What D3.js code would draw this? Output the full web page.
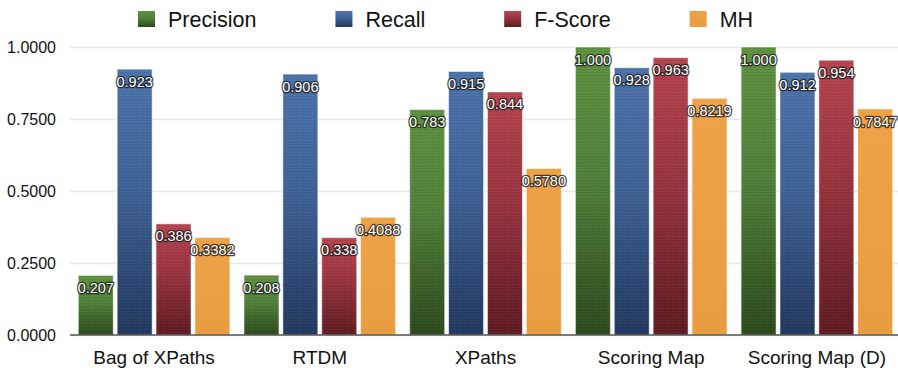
<!DOCTYPE html>
<html>
<head>
<meta charset="utf-8">
<script src="https://cdn.jsdelivr.net/npm/d3@7"></script>
<style>
  html, body { margin: 0; padding: 0; background: #fff; }
  svg { display: block; font-family: "Liberation Sans", Arial, Helvetica, sans-serif; }
</style>
</head>
<body>
<svg id="chart" width="898" height="368"></svg>
<script>
// Extraction methods compared on four measures
const categories = ["Bag of XPaths", "RTDM", "XPaths", "Scoring Map", "Scoring Map (D)"];
const seriesNames = ["Precision", "Recall", "F-Score", "MH"];
const precision = [0.207, 0.208, 0.783, 1.000, 1.000];
const recall    = [0.923, 0.906, 0.915, 0.928, 0.912];
const fScore    = [0.386, 0.338, 0.844, 0.963, 0.954];
const mh        = [0.3382, 0.4088, 0.5780, 0.8219, 0.7847];
const yTicks    = [0, 0.25, 0.5, 0.75, 1.0];

const seriesValues = [precision, recall, fScore, mh];
const labelDigits = [3, 3, 3, 4];
// top / middle / bottom shades of each series
const shades = [
  { top: "#5e9140", mid: "#50803a", bottom: "#2c4a1c" },
  { top: "#4c73ab", mid: "#3f6296", bottom: "#22385e" },
  { top: "#b5444f", mid: "#98343f", bottom: "#5f1a21" },
  { top: "#eda248", mid: "#eca045", bottom: "#e99d42" }
];

const svg = d3.select("#chart");
const plotLeft = 70, plotRight = 898, plotTop = 47, plotBottom = 335;

const x0 = d3.scaleBand().domain(categories).range([plotLeft, 901]).paddingInner(0.085).paddingOuter(0.05);
const x1 = d3.scaleBand().domain(seriesNames).range([0, x0.bandwidth()]).paddingInner(0.1);
const y = d3.scaleLinear().domain([0, 1]).range([plotBottom, plotTop]);

// gradients
const defs = svg.append("defs");
seriesNames.forEach((name, i) => {
  const g = defs.append("linearGradient")
    .attr("id", "grad" + i).attr("x1", 0).attr("y1", 0).attr("x2", 0).attr("y2", 1);
  g.append("stop").attr("offset", "0%").attr("stop-color", shades[i].top);
  g.append("stop").attr("offset", "45%").attr("stop-color", shades[i].mid);
  g.append("stop").attr("offset", "100%").attr("stop-color", shades[i].bottom);
});
// faint horizontal grain over the bars
const grain = defs.append("pattern").attr("id", "grain")
  .attr("patternUnits", "userSpaceOnUse").attr("width", 6).attr("height", 3);
grain.append("rect").attr("width", 6).attr("height", 1).attr("fill", "rgba(0,0,0,0.04)");
grain.append("rect").attr("y", 2).attr("width", 4).attr("height", 1).attr("fill", "rgba(255,255,255,0.04)");

// y axis: gridlines and labels
const yAxis = d3.axisLeft(y).tickValues(yTicks).tickFormat(d3.format(".4f"))
  .tickSize(-(plotRight - plotLeft)).tickPadding(14);
const ya = svg.append("g").attr("transform", `translate(${plotLeft},0)`).call(yAxis);
ya.select(".domain").remove();
ya.selectAll(".tick line").attr("stroke", "#e6e6e6").attr("stroke-width", 1.5);
ya.selectAll(".tick text").attr("font-size", 16).attr("fill", "#111")
  .attr("font-family", "'Liberation Sans', Arial, Helvetica, sans-serif");

// bars
const groups = svg.append("g").selectAll("g").data(categories).join("g")
  .attr("transform", d => `translate(${x0(d)},0)`);

const cells = groups.selectAll("g.cell")
  .data((c, ci) => seriesNames.map((s, si) => ({ s, si, v: seriesValues[si][ci] })))
  .join("g").attr("class", "cell");

cells.append("rect")
  .attr("x", d => x1(d.s)).attr("width", x1.bandwidth())
  .attr("y", d => y(d.v)).attr("height", d => y(0) - y(d.v))
  .attr("fill", d => `url(#grad${d.si})`)
  .attr("stroke", "rgba(255,255,255,0.55)").attr("stroke-width", 1);

cells.filter(d => d.si !== 3).append("rect")
  .attr("x", d => x1(d.s)).attr("width", x1.bandwidth())
  .attr("y", d => y(d.v)).attr("height", d => y(0) - y(d.v))
  .attr("fill", "url(#grain)");

// value labels
cells.append("text")
  .attr("x", d => x1(d.s) + x1.bandwidth() / 2)
  .attr("y", d => y(d.v) + 17.5)
  .attr("text-anchor", "middle")
  .attr("font-size", 14.5)
  .attr("fill", "#fff")
  .attr("stroke", "rgba(25,25,25,0.8)").attr("stroke-width", 2.6)
  .attr("stroke-linejoin", "round")
  .attr("paint-order", "stroke")
  .text(d => d.v.toFixed(labelDigits[d.si]));

// baseline
svg.append("line").attr("x1", plotLeft).attr("x2", plotRight)
  .attr("y1", y(0)).attr("y2", y(0)).attr("stroke", "#555").attr("stroke-width", 1.5);

// x axis labels
const xAxis = d3.axisBottom(x0).tickSize(0).tickPadding(16);
const xa = svg.append("g").attr("transform", `translate(0,${plotBottom})`).call(xAxis);
xa.select(".domain").remove();
xa.selectAll(".tick text").attr("font-size", 19).attr("fill", "#111")
  .attr("font-family", "'Liberation Sans', Arial, Helvetica, sans-serif");

// legend
const legend = svg.append("g");
let lx = 138;
seriesNames.forEach((name, i) => {
  legend.append("rect").attr("x", lx).attr("y", 11).attr("width", 17).attr("height", 16)
    .attr("fill", `url(#grad${i})`);
  const t = legend.append("text").attr("x", lx + 30).attr("y", 27)
    .attr("font-size", 21.5).attr("fill", "#111").text(name);
  lx += 30 + t.node().getComputedTextLength() + 79;
});
</script>
</body>
</html>
